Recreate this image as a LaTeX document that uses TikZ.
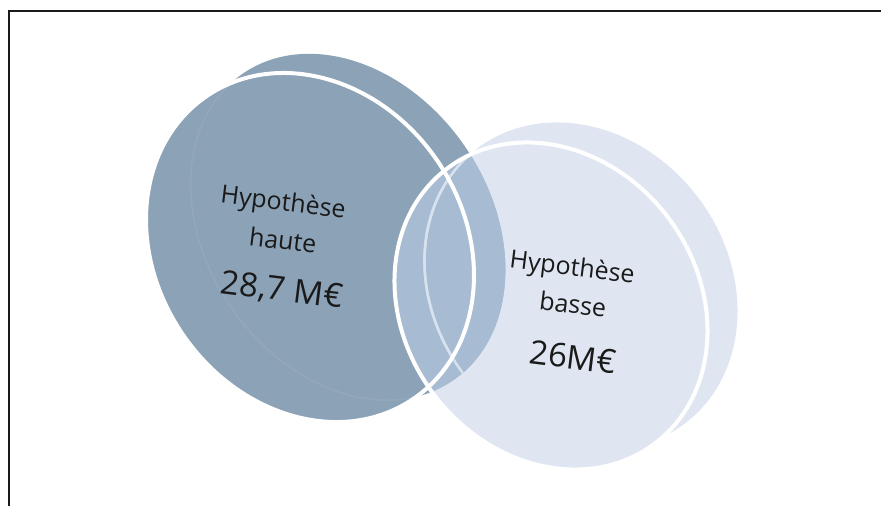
\documentclass[tikz,border=0pt]{standalone}
\usepackage{fontspec}
\setmainfont{Open Sans}
\definecolor{cdark}{HTML}{8BA2B7}
\definecolor{clight}{HTML}{DFE6F1}
\definecolor{cmid}{HTML}{A7BBD2}
\definecolor{ctext}{HTML}{1A1A1A}
\definecolor{cedge}{HTML}{D8E1EE}
\begin{document}
\begin{tikzpicture}[x=1pt,y=-1pt,
  LF/.style={shift={(310,247.5)},rotate=-55.6},
  LE/.style={x radius=183.3pt,y radius=154.1pt},
  LB/.style={shift={(348,227)},rotate=-55.6},
  LBE/.style={x radius=186pt,y radius=142pt},
  RF/.style={shift={(551,306)},rotate=-53},
  RB/.style={shift={(581,286)},rotate=-53},
  RE/.style={x radius=172.3pt,y radius=146.8pt},
  ring/.style={draw=white,line width=4pt},
  lab/.style={font=\fontsize{25}{28}\selectfont,text=ctext,inner sep=0pt,rotate=-7},
  num/.style={font=\fontsize{33}{36}\selectfont,text=ctext,inner sep=0pt,rotate=-7}]
\useasboundingbox (0,0) rectangle (881,506);
% frame
\draw[line width=1.5pt,color=ctext] (9,506) -- (9,11) -- (881,11);
% left disk
\fill[cdark,LB] (0,0) ellipse[LBE];
\fill[cdark,LF] (0,0) ellipse[LE];
% right disk
\fill[clight,RB] (0,0) ellipse[RE];
\fill[clight,RF] (0,0) ellipse[RE];
% overlap
\begin{scope}
  \clip[LF] (0,0) ellipse[LE];
  \fill[cmid,RB] (0,0) ellipse[RE];
  \fill[cmid,RF] (0,0) ellipse[RE];
\end{scope}
\begin{scope}
  \clip[LB] (0,0) ellipse[LBE];
  \fill[cmid,RB] (0,0) ellipse[RE];
  \fill[cmid,RF] (0,0) ellipse[RE];
\end{scope}
% faint back edge of left disk seen through its front
\begin{scope}
  \clip[LF] (0,0) ellipse[LE];
  \draw[white,opacity=0.07,line width=1.5pt,LB] (0,0) ellipse[LBE];
\end{scope}
% back edge of right disk in the overlap
\begin{scope}
  \clip[RF] (0,0) ellipse[RE];
  \begin{scope}
    \clip[LF] (0,0) ellipse[LE];
    \draw[cedge,line width=2.5pt,RB] (0,0) ellipse[RE];
  \end{scope}
  \begin{scope}
    \clip[LB] (0,0) ellipse[LBE];
    \draw[cedge,line width=2.5pt,RB] (0,0) ellipse[RE];
  \end{scope}
\end{scope}
% white rims of the front faces
\draw[ring,LF] (0,0) ellipse[LE];
\draw[ring,RF] (0,0) ellipse[RE];
% labels
\node[lab] (lh1) at (283,204) {Hypothèse};
\node[lab] (lh2) at (283,240) {haute};
\node[num] (lv) at (282,291) {28,7 M€};
\node[lab] (rh1) at (572,269) {Hypothèse};
\node[lab] (rh2) at (573,304) {basse};
\node[num] (rv) at (573,357) {26M€};
\end{tikzpicture}
\end{document}
